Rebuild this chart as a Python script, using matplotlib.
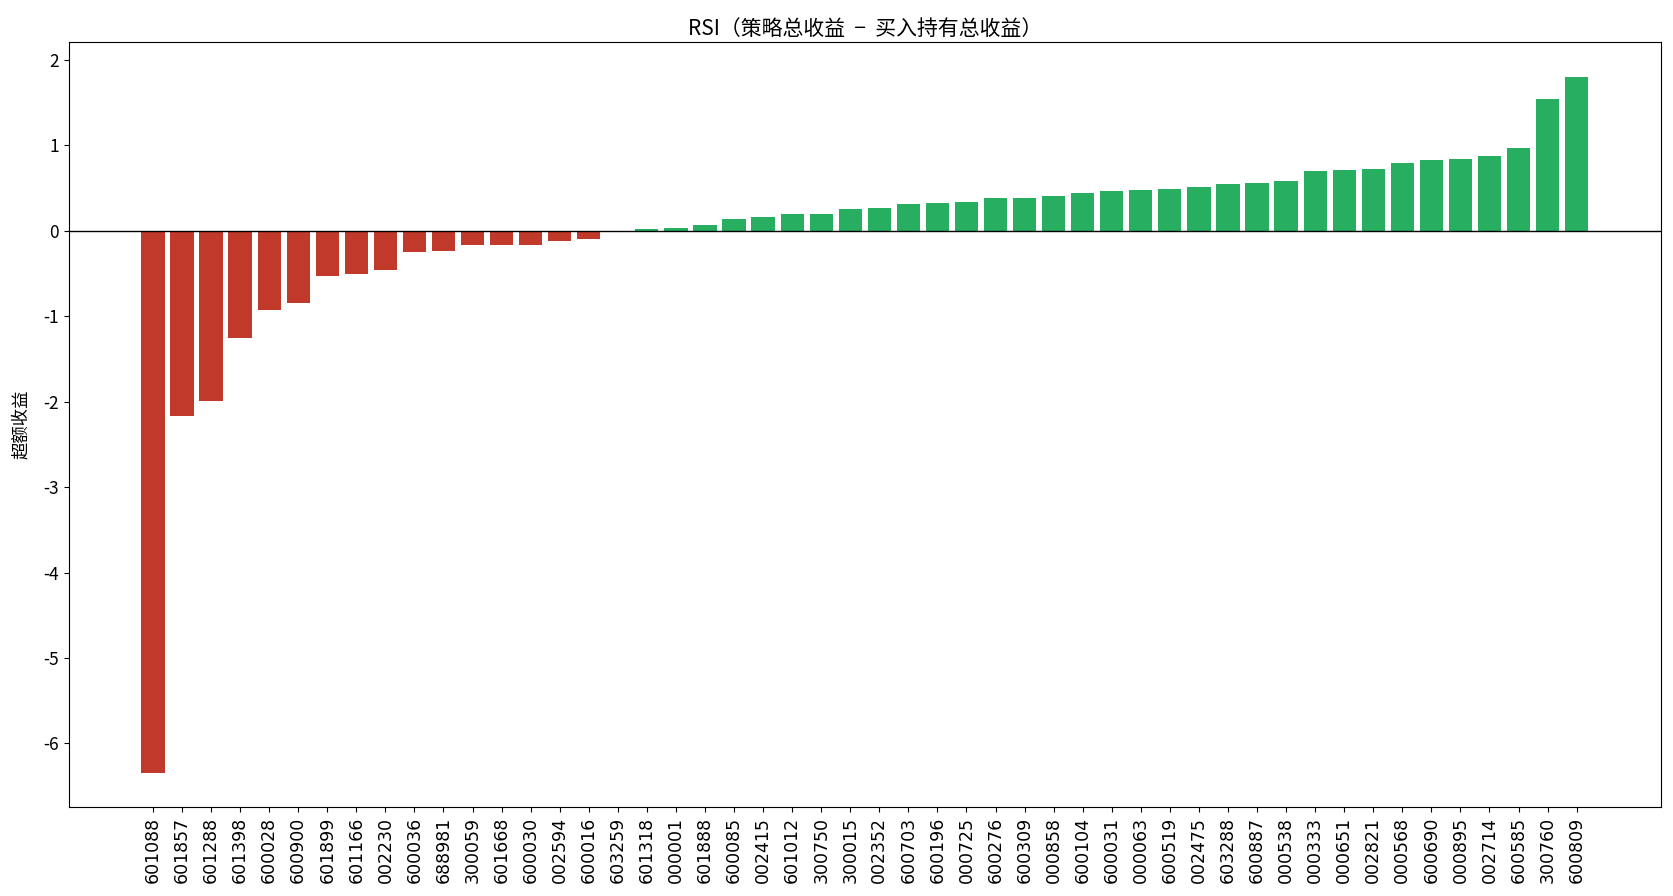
import matplotlib
matplotlib.use("Agg")
import matplotlib.pyplot as plt

plt.rcParams['font.family'] = ['Noto Sans CJK SC', 'DejaVu Sans']
plt.rcParams['axes.unicode_minus'] = False

codes = [
    "601088", "601857", "601288", "601398", "600028", "600900", "601899", "601166",
    "002230", "600036", "688981", "300059", "601668", "600030", "002594", "600016",
    "603259", "601318", "000001", "601888", "600085", "002415", "601012", "300750",
    "300015", "002352", "600703", "600196", "000725", "600276", "600309", "000858",
    "600104", "600031", "000063", "600519", "002475", "603288", "600887", "000538",
    "000333", "000651", "002821", "000568", "600690", "000895", "002714", "600585",
    "300760", "600809",
]
excess = [
    -6.34, -2.17, -1.99, -1.26, -0.93, -0.84, -0.53, -0.51,
    -0.46, -0.25, -0.24, -0.17, -0.17, -0.17, -0.12, -0.10,
    0.00, 0.016, 0.027, 0.063, 0.133, 0.157, 0.19, 0.20,
    0.25, 0.263, 0.31, 0.32, 0.333, 0.38, 0.38, 0.404,
    0.44, 0.463, 0.475, 0.486, 0.51, 0.545, 0.557, 0.58,
    0.70, 0.71, 0.72, 0.79, 0.827, 0.84, 0.875, 0.97,
    1.545, 1.80,
]

colors = ['#27ae60' if v > 0 else '#c0392b' for v in excess]

fig = plt.figure(figsize=(16.74, 8.96), dpi=100)
ax = fig.add_subplot(111)
fig.subplots_adjust(left=0.0412, right=0.992, top=0.953, bottom=0.099)

x = list(range(len(codes)))
ax.bar(x, excess, color=colors, width=0.8)
ax.axhline(0, color='black', linewidth=1)

ax.set_xticks(x)
ax.set_xticklabels(codes, rotation=90, fontsize=12.5, fontfamily='DejaVu Sans')
ax.tick_params(axis='y', labelsize=12.5)
ax.set_ylabel('超额收益', fontsize=12.5, labelpad=10)
ax.set_title('RSI（策略总收益  −  买入持有总收益）', fontsize=15, pad=5)

plt.savefig("out.png", dpi=100)
